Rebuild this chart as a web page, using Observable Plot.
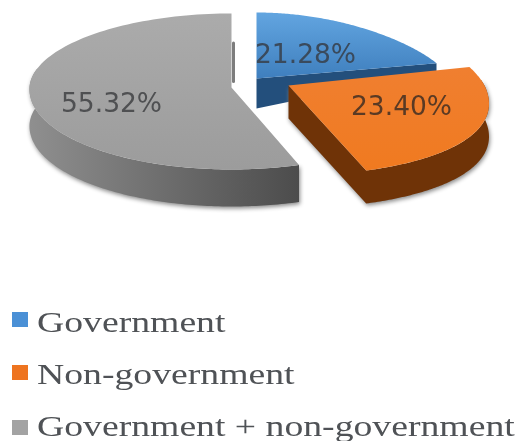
<!DOCTYPE html>
<html><head><meta charset="utf-8">
<script src="https://cdn.jsdelivr.net/npm/d3@7"></script>
<script src="https://cdn.jsdelivr.net/npm/@observablehq/plot@0.6"></script>
<style>
html,body{margin:0;padding:0;background:#fff;overflow:hidden;width:519px;height:441px}
#chart svg{display:block}
#legend{position:absolute;left:0;top:0;width:519px;height:441px;filter:blur(.6px)}
.sw{position:absolute;left:12px;width:16px;height:15px}
.lb{position:absolute;left:37px;font-family:"Liberation Serif",serif;font-size:29px;line-height:34px;color:#4f5256;white-space:nowrap;transform-origin:left center}
</style></head><body>
<div id="chart"></div><div id="legend"></div>
<script>
const categories = ["Government", "Non-government", "Government + non-government"];
const values = [21.28, 23.40, 55.32];
const legendColors = ["#4a90d6", "#ee7420", "#a3a3a3"];
const labelColors = ["#3a4a5c", "#5a3a24", "#4f5052"];

// pie geometry per slice (apex, radius, tilt)
const shape = [
  {cx:256, cy:78, r:194, k:.2,  ryB:66, ryF:80, depth:30, farDepth:8, lx:305, ly:54},
  {cx:288, cy:85, r:196, k:.22, ryB:80, ryF:90, depth:33, lx:401, ly:106},
  {cx:231, cy:87, r:202, k:.02, ryB:74, ryF:82, depth:37, lx:111, ly:103}
];
const ends = d3.cumsum(values).map(v => v / d3.sum(values) * 360);
const starts = [0, ends[0], ends[1]];
const rad = d => d * Math.PI / 180;
function pt(s, deg, drop = 0, f = 1) {
  const c = Math.cos(rad(deg)), n = Math.sin(rad(deg));
  const q = 1 - s.k * c;
  return {x: s.cx + f * s.r * n * q, y: s.cy - f * (c > 0 ? s.ryB : s.ryF) * c + drop};
}
const arc = (s, a, b, drop = 0) => d3.range(0, 121).map(i => pt(s, a + (b - a) * i / 120, drop));
const topFace = i => [{x: shape[i].cx, y: shape[i].cy}, ...arc(shape[i], starts[i], ends[i])];
const outerWall = (i, a, b) => [...arc(shape[i], a, b), ...arc(shape[i], b, a, shape[i].depth)];
const radialWall = (i, deg) => {
  const s = shape[i], e = pt(s, deg);
  return [{x: s.cx, y: s.cy}, e, {x: e.x, y: e.y + s.farDepth}, {x: s.cx, y: s.cy + s.depth}];
};
// orange side: radial face and rim as one silhouette, so no seam shows between them
const orangeSide = (i, a) => {
  const s = shape[i];
  return [{x: s.cx, y: s.cy}, ...arc(s, ends[i], a), ...arc(s, a, ends[i], s.depth), {x: s.cx, y: s.cy + s.depth}];
};
const face = (pts, fill, extra = {}) => Plot.line(pts, {x: "x", y: "y", fill, stroke: "none", ...extra});
const shadow = {imageFilter: "drop-shadow(1px 2px 2px #8a8a8a)"};
const grad = (id, x2, y2, a, b) =>
  `<linearGradient id="${id}" x1="0" y1="0" x2="${x2}" y2="${y2}"><stop offset="0" stop-color="${a}"/><stop offset="1" stop-color="${b}"/></linearGradient>`;
const defs = () => {
  const g = document.createElementNS("http://www.w3.org/2000/svg", "g");
  g.innerHTML = "<defs>" +
    grad("gBlue", 0, 1, "#62a5e0", "#3f7fbe") +
    grad("gOrange", 0, 1, "#f07f30", "#f07a20") +
    grad("gGray", 0, 1, "#ababab", "#9c9c9c") +
    grad("wGray", 1, 0, "#8f8f8f", "#4c4c4c") + "</defs>";
  return g;
};
const plot = Plot.plot({
  width: 519, height: 300, margin: 0,
  x: {domain: [0, 519], range: [0, 519], axis: null},
  y: {domain: [0, 300], range: [0, 300], axis: null},
  style: {filter: "blur(.7px)", background: "#fff"},
  marks: [
    defs,
    face(radialWall(0, ends[0]), "#234f7c"),
    face(topFace(0), "url(#gBlue)"),
    face(orangeSide(1, 86), "#6f3307", shadow),
    face(topFace(1), "url(#gOrange)"),
    face(outerWall(2, starts[2], 285), "url(#wGray)", shadow),
    face(topFace(2), "url(#gGray)"),
    Plot.line([pt(shape[2], 360, 0, .6), pt(shape[2], 360, 0, .08)],
      {x: d => d.x + 2, y: "y", stroke: "#7d7d7d", strokeWidth: 3}),
    Plot.text(values.map((v, i) => ({t: v.toFixed(2) + "%", x: shape[i].lx, y: shape[i].ly, c: labelColors[i]})),
      {x: "x", y: "y", text: "t", fill: "c", fontSize: 26.5, fontFamily: "DejaVu Sans"})
  ]
});
document.getElementById("chart").append(plot);

const swTop = [312, 365, 420], lbTop = [305, 357, 409];
const legend = document.getElementById("legend");
categories.forEach((c, i) => {
  const sw = document.createElement("div");
  sw.className = "sw"; sw.style.top = swTop[i] + "px"; sw.style.background = legendColors[i];
  const lb = document.createElement("div");
  lb.className = "lb"; lb.style.top = lbTop[i] + "px"; lb.textContent = c;
  lb.style.transform = "scaleX(1.3)";
  legend.append(sw, lb);
});
</script></body></html>
